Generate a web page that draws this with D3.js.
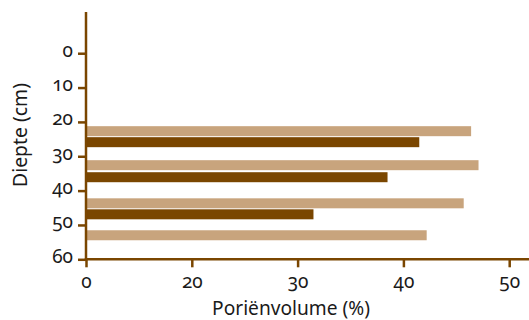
<!DOCTYPE html>
<html><head><meta charset="utf-8">
<script src="https://cdn.jsdelivr.net/npm/d3@7"></script>
<style>
body{margin:0;background:#fff;}
text{font-family:"Noto Sans","Open Sans",sans-serif;font-feature-settings:"onum" 1;fill:#1a1a1a;}
</style></head><body>
<svg id="c" width="529" height="320"></svg>
<script>
// Data
const xTickLabels = ["0","20","30","40","50"];
const xTickValues = [0,20,30,40,50];
const yTickValues = [0,10,20,30,40,50,60];
const lightDepth = [22.7, 32.6, 43.7, 53.0];
const lightValues = [46.4, 47.1, 45.7, 42.2];
const darkDepth = [25.9, 36.1, 46.9];
const darkValues = [41.5, 38.5, 31.5];

const W = 529, H = 320;
const axisColor = "#7a4600", lightColor = "#c8a47d", darkColor = "#7a4600";
const x0 = 86, step = 105.8, xEnd = 529;
const yTop = 12, yBottom = 259.3;
const barH = 10;
const fontFam = '"Noto Sans","Open Sans",sans-serif';

const svg = d3.select("#c");
const x = d3.scaleLinear().domain(xTickValues).range(xTickValues.map((d,i)=>x0+i*step));
const y = d3.scaleLinear().domain([-12,60]).range([yTop,yBottom]);

// bars
const gBars = svg.append("g");
gBars.selectAll("rect.light").data(lightDepth.map((d,i)=>({d, v:lightValues[i]}))).join("rect")
  .attr("class","light").attr("x", x(0)).attr("y", d=>y(d.d)-barH/2)
  .attr("width", d=>x(d.v)-x(0)).attr("height", barH).attr("fill", lightColor);
gBars.selectAll("rect.dark").data(darkDepth.map((d,i)=>({d, v:darkValues[i]}))).join("rect")
  .attr("class","dark").attr("x", x(0)-1).attr("y", d=>y(d.d)-barH/2)
  .attr("width", d=>x(d.v)-x(0)+1).attr("height", barH).attr("fill", darkColor);

// y axis
const yAxis = d3.axisLeft(y).tickValues(yTickValues).tickSize(8).tickPadding(5).tickFormat(d3.format("d"));
const gy = svg.append("g").attr("transform",`translate(${x0},0)`).call(yAxis);
gy.select(".domain").remove();
gy.selectAll(".tick line").attr("stroke",axisColor).attr("stroke-width",2.5);
gy.selectAll(".tick text").attr("font-size",19).attr("fill","#1a1a1a")
  .style("font-family",fontFam).attr("dy",null).attr("y",3);
svg.append("line").attr("x1",x0).attr("x2",x0).attr("y1",yTop).attr("y2",yBottom+1.2)
  .attr("stroke",axisColor).attr("stroke-width",2.5);

// x axis
const xAxis = d3.axisBottom(x).tickValues(xTickValues).tickSize(8).tickPadding(8)
  .tickFormat((d,i)=>xTickLabels[i]);
const gx = svg.append("g").attr("transform",`translate(0,${yBottom})`).call(xAxis);
gx.select(".domain").remove();
gx.selectAll(".tick line").attr("stroke",axisColor).attr("stroke-width",2.5);
gx.selectAll(".tick text").attr("font-size",19).attr("fill","#1a1a1a")
  .style("font-family",fontFam).attr("dy",null).attr("y",28.5);
svg.append("line").attr("x1",x0-1.2).attr("x2",xEnd).attr("y1",yBottom).attr("y2",yBottom)
  .attr("stroke",axisColor).attr("stroke-width",2.5);

// labels
function fit(t, w){ const l=t.node().getComputedTextLength(); t.attr("font-size", 16*w/l); }
const xl = svg.append("text").attr("x",291).attr("y",315).attr("text-anchor","middle").attr("font-size",16)
  .text("Poriënvolume (%)");
fit(xl,158);
const yl = svg.append("text").attr("transform","translate(27,135) rotate(-90)").attr("text-anchor","middle")
  .attr("font-size",16).text("Diepte (cm)");
fit(yl,104);
</script></body></html>
